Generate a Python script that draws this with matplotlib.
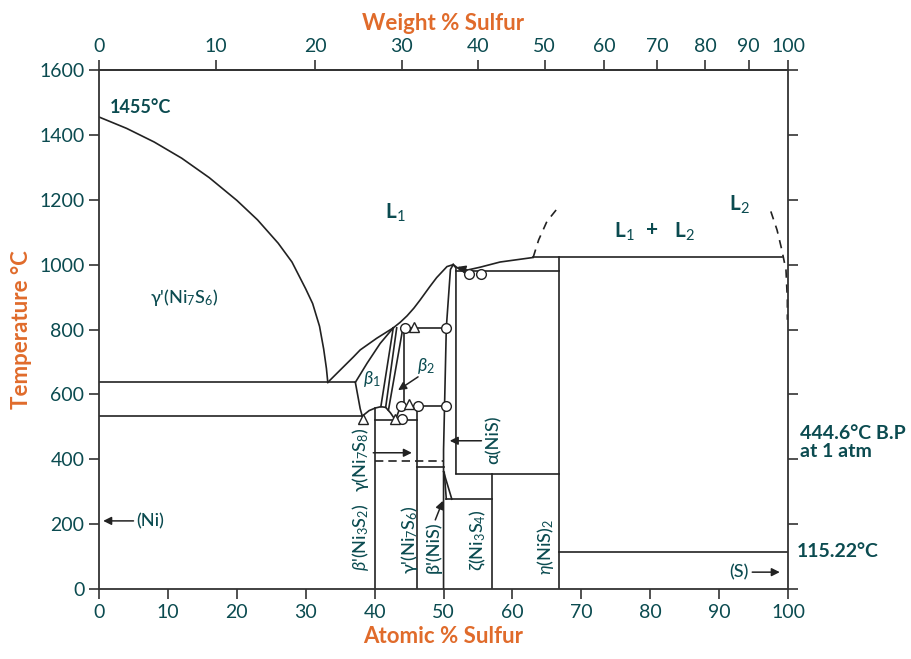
import numpy as np
import matplotlib.pyplot as plt

plt.rcParams['font.family'] = ['Lato', 'DejaVu Sans']
plt.rcParams['mathtext.fontset'] = 'custom'
plt.rcParams['mathtext.rm'] = 'Lato'
plt.rcParams['mathtext.it'] = 'Lato:italic'
plt.rcParams['mathtext.bf'] = 'Lato:bold'
plt.rcParams['mathtext.fallback'] = 'stixsans'

TEAL = '#0b4b50'
ORANGE = '#e06b2b'
INK = '#222222'

# phase boundaries, x = atomic % S, t = temperature (C)
liq_ni_x = [0, 4, 8, 12, 16, 20, 23, 26, 28, 30, 31, 32, 32.6, 33.0, 33.2]
liq_ni_t = [1455, 1420, 1378, 1328, 1268, 1198, 1138, 1066, 1008, 925, 880, 810, 740, 680, 637]
liq_b1_x = [33.2, 35.0, 36.9, 37.9, 40.3, 42.7]
liq_b1_t = [637, 675, 715, 737, 773, 805]
sol_b1_x = [37.2, 38.9, 40.8, 42.7]
sol_b1_t = [637, 696, 757, 805]
b1_left_x = [37.2, 37.9, 38.2]
b1_left_t = [637, 556, 533]
b1_dome_x = [38.2, 39.2, 40.1, 40.9, 41.6, 42.3, 43.0]
b1_dome_t = [533, 550, 558, 562, 560, 543, 521]
liq_up_x = [42.7, 43.7, 44.7, 45.7, 46.6, 48.0, 49.0, 50.5, 51.4]
liq_up_t = [805, 822, 842, 866, 891, 932, 960, 994, 1000]
liq_right_x = [51.4, 51.9, 52.6, 53.4, 55.3, 58.2, 63.0]
liq_right_t = [1000, 992, 981, 983, 992, 1008, 1022]
nis_left_x = [50.0, 50.0, 50.4, 51.0, 51.4]
nis_left_t = [0, 428, 805, 985, 1000]
nis_right_x = [51.4, 51.8, 51.8]
nis_right_t = [1000, 990, 356]

# straight boundaries: (x0, x1, t0, t1)
segments = [
    (0, 37.2, 637, 637),
    (0, 38.2, 533, 533),
    (40.1, 46.2, 521, 521),
    (44.3, 50.4, 805, 805),
    (43.8, 50.3, 565, 565),
    (51.8, 66.7, 981, 981),
    (63.0, 99.1, 1022, 1022),
    (51.8, 66.7, 356, 356),
    (50.4, 57.1, 277, 277),
    (46.2, 50.0, 375, 375),
    (66.7, 100, 115, 115),
    (40.1, 40.1, 0, 558),
    (44.3, 44.3, 565, 805),
    (46.2, 46.2, 0, 565),
    (57.1, 57.1, 0, 356),
    (66.7, 66.7, 0, 1022),
    (43.8, 43.0, 565, 521),
    (42.7, 40.9, 805, 562),
    (43.2, 41.6, 805, 560),
    (44.1, 42.0, 805, 551),
    (50.0, 51.2, 362, 277),
    (50.1, 50.4, 360, 277),
]
dashed_segments = [(40.1, 50.0, 396, 396)]

mono_left_x = [63.0, 63.8, 65.0, 66.7]
mono_left_t = [1022, 1076, 1133, 1178]
mono_right_x = [97.5, 98.4, 99.1, 99.7, 99.9, 99.9]
mono_right_t = [1164, 1107, 1045, 983, 891, 830]

circ_x = [44.4, 50.4, 43.8, 46.3, 50.4, 43.9, 53.7, 55.4]
circ_t = [805, 805, 565, 565, 565, 524, 970, 970]
tri_x = [45.7, 45.0, 38.3, 43.0]
tri_t = [808, 571, 524, 523]

wt_ticks = [0, 10, 20, 30, 40, 50, 60, 70, 80, 90, 100]
M_S, M_NI = 32.06, 58.69


def at2wt(a):
    a = np.asarray(a, dtype=float)
    with np.errstate(divide='ignore', invalid='ignore'):
        return 100 * a * M_S / (a * M_S + (100 - a) * M_NI)


def wt2at(w):
    w = np.asarray(w, dtype=float)
    with np.errstate(divide='ignore', invalid='ignore'):
        return 100 * (w / M_S) / (w / M_S + (100 - w) / M_NI)


fig = plt.figure(figsize=(9.12, 6.59), dpi=100)
ax = fig.add_axes([0.1086, 0.1062, 0.7555, 0.7876])

lk = dict(color=INK, lw=1.2)
for xs, ts in [(liq_ni_x, liq_ni_t), (liq_b1_x, liq_b1_t), (sol_b1_x, sol_b1_t),
               (b1_left_x, b1_left_t), (b1_dome_x, b1_dome_t), (liq_up_x, liq_up_t),
               (liq_right_x, liq_right_t), (nis_left_x, nis_left_t),
               (nis_right_x, nis_right_t)]:
    ax.plot(xs, ts, **lk)
for x0, x1, t0, t1 in segments:
    ax.plot([x0, x1], [t0, t1], **lk)
for x0, x1, t0, t1 in dashed_segments:
    ax.plot([x0, x1], [t0, t1], color=INK, lw=1.2, ls=(0, (5, 3)))
ax.plot(mono_left_x, mono_left_t, color=INK, lw=1.2, ls=(0, (5, 4)))
ax.plot(mono_right_x, mono_right_t, color=INK, lw=1.2, ls=(0, (5, 4)), clip_on=False)

ax.plot(circ_x, circ_t, 'o', ms=7, mfc='white', mec=INK, mew=1.0, zorder=5)
ax.plot(tri_x, tri_t, '^', ms=7, mfc='white', mec=INK, mew=1.0, zorder=5)

ap = dict(arrowstyle='-|>', color=INK, lw=1.1, mutation_scale=12,
          shrinkA=0, shrinkB=0)
arrows = [((5.0, 210), (0.6, 210)), ((94.8, 52), (98.8, 52)),
          ((39.8, 420), (45.4, 420)), ((55.5, 457), (50.9, 457)),
          ((48.8, 213), (49.9, 272)), ((46.3, 654), (43.4, 613)),
          ((53.3, 984), (52.0, 993))]
for tail, head in arrows:
    ax.annotate('', xy=head, xytext=tail, arrowprops=ap)

tk = dict(color=TEAL, fontsize=13, weight='medium', ha='center', va='center')
lbig = dict(color=TEAL, fontsize=15, weight='bold', ha='center', va='center')
ax.text(1.6, 1483, '1455°C', color=TEAL, fontsize=13, weight='bold', ha='left', va='center')
ax.text(43.0, 1159, r'L$_1$', **lbig)
ax.text(76.2, 1100, r'L$_1$', **lbig)
ax.text(80.2, 1107, '+', **lbig)
ax.text(85.0, 1100, r'L$_2$', **lbig)
ax.text(93.0, 1184, r'L$_2$', **lbig)
ax.text(12.3, 900, "γ'(Ni$_7$S$_6$)", **tk)
ax.text(39.6, 647, r'$\beta_1$', **tk)
ax.text(47.5, 687, r'$\beta_2$', **tk)
ax.text(37.9, 398, 'γ(Ni$_7$S$_8$)', rotation=90, **tk)
ax.text(38.0, 160, r"$\beta$'(Ni$_3$S$_2$)", rotation=90, **tk)
ax.text(45.0, 151, "γ'(Ni$_7$S$_6$)", rotation=90, **tk)
ax.text(48.5, 129, "β'(NiS)", rotation=90, **tk)
ax.text(55.0, 151, 'ζ(Ni$_3$S$_4$)', rotation=90, **tk)
ax.text(64.8, 129, r'$\eta$(NiS)$_2$', rotation=90, **tk)
ax.text(57.2, 459, 'α(NiS)', rotation=90, **tk)
ax.text(5.4, 210, '(Ni)', color=TEAL, fontsize=13, weight='medium', ha='left', va='center')
ax.text(94.3, 52, '(S)', color=TEAL, fontsize=13, weight='medium', ha='right', va='center')
ax.text(101.7, 452, '444.6°C B.P\nat 1 atm', color=TEAL, fontsize=14, weight='bold',
        ha='left', va='center', linespacing=1.1, clip_on=False)
ax.text(101.3, 117, '115.22°C', color=TEAL, fontsize=14, weight='bold',
        ha='left', va='center', clip_on=False)

ax.set_xlim(0, 100)
ax.set_ylim(0, 1600)
ax.set_xticks(range(0, 101, 10))
ax.set_yticks(range(0, 1601, 200))
for s in ax.spines.values():
    s.set_color('#333333')
    s.set_linewidth(1.3)
ax.tick_params(direction='out', length=7, width=1.2, color='#333333',
               labelcolor=TEAL, labelsize=14, right=True, labelright=False)
ax.set_xlabel('Atomic % Sulfur', color=ORANGE, fontsize=16, weight='bold', labelpad=4)
ax.set_ylabel('Temperature °C', color=ORANGE, fontsize=16, weight='bold', labelpad=5)

sec = ax.secondary_xaxis('top', functions=(at2wt, wt2at))
sec.set_xticks(wt_ticks)
sec.spines['top'].set_color('#333333')
sec.spines['top'].set_linewidth(1.3)
sec.tick_params(direction='out', length=7, width=1.2, color='#333333',
                labelcolor=TEAL, labelsize=14)
sec.set_xlabel('Weight % Sulfur', color=ORANGE, fontsize=16, weight='bold', labelpad=6)

fig.savefig('out.png', dpi=100)
